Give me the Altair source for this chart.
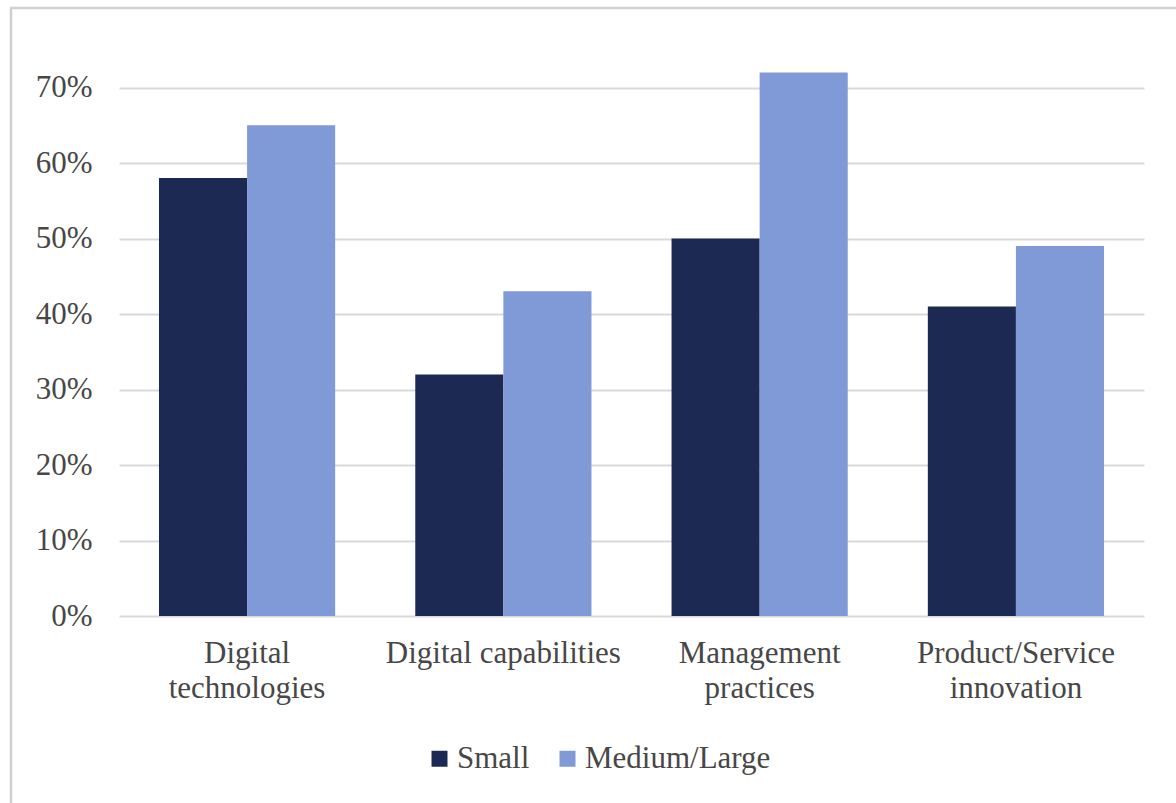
import altair as alt
import pandas as pd

categories = ["Digital technologies", "Digital capabilities", "Management practices", "Product/Service innovation"]
series = ["Small", "Medium/Large"]
small = [0.58, 0.32, 0.50, 0.41]
medium_large = [0.65, 0.43, 0.72, 0.49]
y_ticks = [0, 0.1, 0.2, 0.3, 0.4, 0.5, 0.6, 0.7]
colors = ["#1c2a53", "#7f9ad6"]

rows = []
for c, s, m in zip(categories, small, medium_large):
    rows.append({"category": c, "size": series[0], "value": s})
    rows.append({"category": c, "size": series[1], "value": m})
df = pd.DataFrame(rows)

FONT = "Liberation Serif"
TXT = "#474747"
FS = 31

bars = alt.Chart(df).mark_bar().encode(
    x=alt.X("category:N", sort=categories, title=None,
            scale=alt.Scale(paddingInner=0.3125, paddingOuter=0.156),
            axis=alt.Axis(labelAngle=0, ticks=False, domain=False, grid=False,
                          labelPadding=22, labelFontSize=FS, labelLineHeight=35,
                          labelFont=FONT, labelColor=TXT, labelLimit=400,
                          labelExpr="datum.value == 'Digital capabilities' ? datum.value : split(datum.value, ' ')")),
    xOffset=alt.XOffset("size:N", sort=series, scale=alt.Scale(paddingInner=0, paddingOuter=0)),
    y=alt.Y("value:Q", title=None,
            scale=alt.Scale(domain=[0, 0.8], nice=False),
            axis=alt.Axis(values=y_ticks, format=".0%", ticks=False, domain=False,
                          grid=True, gridColor="#d9d9d9", gridWidth=2,
                          labelPadding=27, labelFontSize=FS, labelFont=FONT, labelColor=TXT)),
    color=alt.Color("size:N", sort=series, title=None,
                    scale=alt.Scale(domain=series, range=colors),
                    legend=alt.Legend(orient="none", direction="horizontal",
                                      legendX=305, legendY=731, padding=0,
                                      symbolType="square", symbolSize=256, symbolStrokeWidth=0,
                                      labelFontSize=FS, labelFont=FONT, labelColor=TXT,
                                      labelLimit=400, labelOffset=2, columnPadding=22)),
)

frame_df = pd.DataFrame({"a": [0]})
top_line = alt.Chart(frame_df).mark_rule(color="#d0d0d0", strokeWidth=2.5).encode(
    x=alt.value(-109), x2=alt.value(1057), y=alt.value(-4))
left_line = alt.Chart(frame_df).mark_rule(color="#d0d0d0", strokeWidth=2.5).encode(
    x=alt.value(-108), y=alt.value(-4), y2=alt.value(791))

chart = alt.layer(bars, top_line, left_line).properties(
    width=1025, height=604,
    autosize=alt.AutoSizeParams(type="none"),
    padding={"left": 119, "top": 12, "right": 32, "bottom": 187},
).configure(background="white").configure_view(stroke=None)

chart.save("out.html", embed_options={"renderer": "svg", "actions": False})
